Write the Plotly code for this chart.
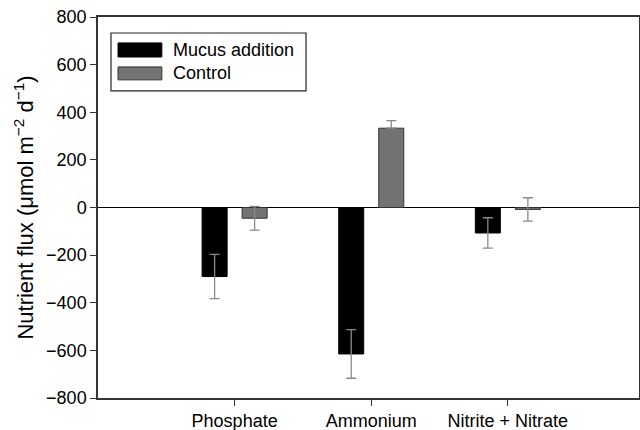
import plotly.graph_objects as go

categories = ["Phosphate", "Ammonium", "Nitrite + Nitrate"]
series_names = ["Mucus addition", "Control"]
mucus_values = [-290, -615, -107]
mucus_err = [93, 102, 64]
control_values = [-45, 333, -8]
control_err_plus = [50, 32, 49]
control_err_minus = [50, 0, 49]
y_ticks = [-800, -600, -400, -200, 0, 200, 400, 600, 800]

fig = go.Figure()
fig.add_trace(go.Bar(
    x=categories, y=mucus_values, name=series_names[0],
    marker=dict(color="#000000", line=dict(color="#000000", width=1)),
    error_y=dict(type="data", array=mucus_err, color="#8a8a8a", thickness=1.3, width=5),
    showlegend=False,
))
fig.add_trace(go.Bar(
    x=categories, y=control_values, name=series_names[1],
    marker=dict(color="#737373", line=dict(color="#333333", width=1)),
    error_y=dict(type="data", array=control_err_plus, arrayminus=control_err_minus,
                 symmetric=False, color="#8a8a8a", thickness=1.3, width=5),
    showlegend=False,
))

font_family = "Liberation Sans, Arial, sans-serif"

# legend drawn manually (box, swatches, labels)
shapes = [
    dict(type="rect", xref="paper", yref="paper", x0=0.024, x1=0.3845, y0=0.806, y1=0.958,
         line=dict(color="#222222", width=1.2), fillcolor="white", layer="above"),
    dict(type="rect", xref="paper", yref="paper", x0=0.037, x1=0.118, y0=0.895, y1=0.932,
         line=dict(color="#000000", width=1), fillcolor="#000000", layer="above"),
    dict(type="rect", xref="paper", yref="paper", x0=0.037, x1=0.118, y0=0.835, y1=0.869,
         line=dict(color="#333333", width=1), fillcolor="#737373", layer="above"),
]
annotations = [
    dict(xref="paper", yref="paper", x=0.135, y=0.9134, text=series_names[0], showarrow=False,
         xanchor="left", yanchor="middle", font=dict(size=18, color="black", family=font_family)),
    dict(xref="paper", yref="paper", x=0.135, y=0.852, text=series_names[1], showarrow=False,
         xanchor="left", yanchor="middle", font=dict(size=18, color="black", family=font_family)),
]

fig.update_layout(
    width=640, height=430,
    margin=dict(l=98, r=1, t=17, b=32, autoexpand=False),
    paper_bgcolor="white", plot_bgcolor="white",
    barmode="group", bargap=0.414, bargroupgap=0.375,
    font=dict(family=font_family, color="black"),
    shapes=shapes, annotations=annotations,
    xaxis=dict(
        type="category", range=[-1.0, 2.96],
        showline=True, linecolor="#333333", linewidth=1.5, mirror=True,
        ticks="outside", ticklen=6, tickcolor="#333333", tickwidth=1.2,
        tickfont=dict(size=18), showgrid=False, zeroline=False,
    ),
    yaxis=dict(
        range=[-800, 800], tickvals=y_ticks,
        showline=True, linecolor="#333333", linewidth=1.5, mirror=True,
        ticks="outside", ticklen=6, tickcolor="#333333", tickwidth=1.2,
        tickfont=dict(size=18), showgrid=False,
        zeroline=True, zerolinecolor="#000000", zerolinewidth=1.2,
        title=dict(text="Nutrient flux (μmol m<sup>−2</sup> d<sup>−1</sup>)",
                   font=dict(size=22), standoff=6),
    ),
)

fig.write_html(
    "out.html",
    config={"displayModeBar": False},
    post_script="document.body.style.margin='0';document.body.style.overflow='hidden';",
)
